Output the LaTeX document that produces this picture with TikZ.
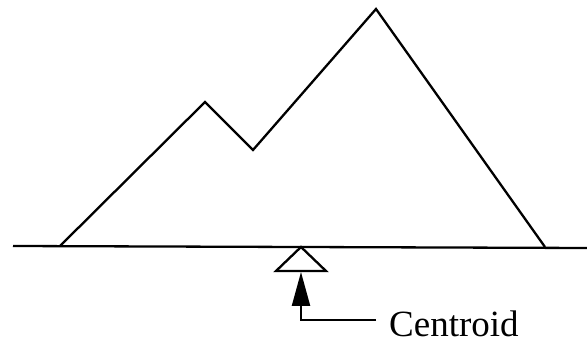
\documentclass[tikz,border=0pt]{standalone}
\usepackage{fontspec}
\setmainfont{Liberation Serif}
\usetikzlibrary{arrows.meta,positioning}

\begin{document}
\begin{tikzpicture}[
  x=1pt,y=-1pt,
  >={Triangle[length=34pt,width=18pt]},
  font=\fontsize{37}{40}\selectfont,
  outline/.style={draw=black,line width=2.3pt,line join=miter},
  pointer/.style={->,line width=2.3pt},
  caption/.style={anchor=base west,inner sep=0pt}
]
\useasboundingbox (0,0) rectangle (587,344);

% ground line and the two-peak shape on it
\draw[outline] (13,246) -- (587,248);
\draw[outline] (60,246) -- (205,102) -- (253,150) -- (376,9) -- (545,247);

% knife-edge support under the centroid
\coordinate (apex) at (301,247);
\draw[outline] (apex) -- (326,271) -- (276,271) -- cycle;
\coordinate (support) at (301,272);

\node[caption] (centroid) at (389,337) {Centroid};
\coordinate (lead) at (376,320);
\coordinate (elbow) at (301,320);
\draw[pointer] (lead) -- (elbow) -- (support);
\end{tikzpicture}
\end{document}
